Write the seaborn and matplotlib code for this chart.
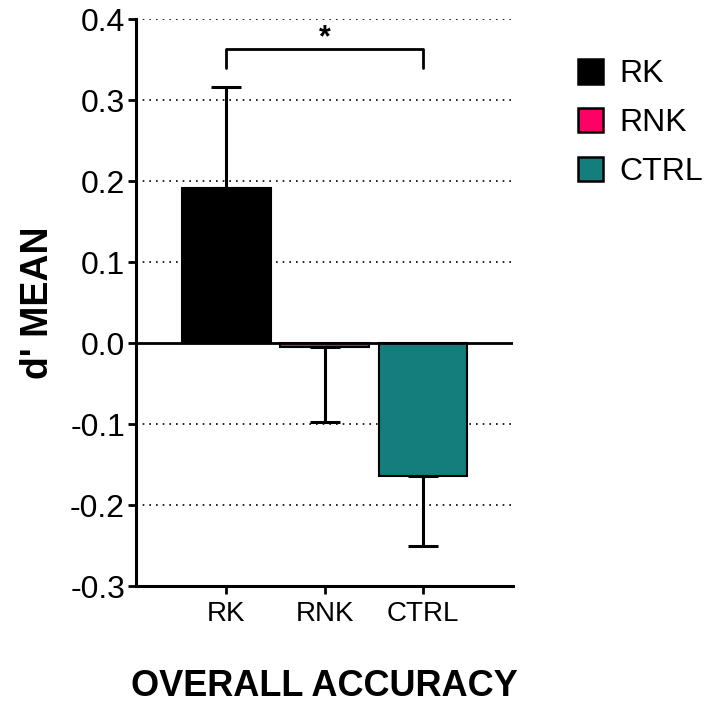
import numpy as np
import pandas as pd
import matplotlib
matplotlib.use("Agg")
import matplotlib.pyplot as plt
import seaborn as sns
from matplotlib.patches import Patch

groups = ["RK", "RNK", "CTRL"]
means = [0.191, -0.005, -0.164]
sems = [0.125, 0.092, 0.086]
colors = ["#000000", "#FF0066", "#137E7B"]
yticks = [-0.3, -0.2, -0.1, 0.0, 0.1, 0.2, 0.3, 0.4]

sns.set_style("white")
plt.rcParams['font.family'] = ['Liberation Sans', 'DejaVu Sans']
plt.rcParams.update({"text.color": "black", "axes.labelcolor": "black",
                     "xtick.color": "black", "ytick.color": "black"})

df = pd.DataFrame({"group": groups, "d": means})

fig = plt.figure(figsize=(7.09, 7.04), dpi=100)
ax = fig.add_axes([0.192, 0.1676, 0.5316, 0.8054])

sns.barplot(data=df, x="group", y="d", hue="group", palette=colors,
            order=groups, hue_order=groups, width=0.9, dodge=False,
            saturation=1, edgecolor="black", linewidth=1.5, legend=False,
            ax=ax, zorder=3)

# one-sided error bars (away from zero)
for i, (m, s) in enumerate(zip(means, sems)):
    lower = [0] if m >= 0 else [s]
    upper = [s] if m >= 0 else [0]
    ax.errorbar(i, m, yerr=[lower, upper], color="black", lw=2.2,
                capsize=11, capthick=2.2, zorder=4)

ax.set_xlim(-0.92, 2.92)
ax.set_ylim(-0.3, 0.4)
ax.set_yticks(yticks)
ax.set_yticklabels([f"{t:.1f}" for t in yticks], fontsize=23)
ax.tick_params(axis="x", labelsize=20, length=6, width=2, direction="out", pad=5)
ax.tick_params(axis="y", length=6, width=2, direction="out", pad=2)
ax.tick_params(bottom=True, left=True)

# grid: dotted lines except solid zero line
for t in yticks:
    if t == -0.3:
        continue
    if t == 0.0:
        ax.axhline(0, color="black", lw=2, zorder=5)
    else:
        ax.axhline(t, color="black", lw=1.2, ls=(0, (1, 3)), zorder=1)

for side in ["top", "right"]:
    ax.spines[side].set_visible(False)
for side in ["left", "bottom"]:
    ax.spines[side].set_linewidth(2.2)
    ax.spines[side].set_color("black")

ax.set_xlabel("OVERALL ACCURACY", fontsize=26, fontweight="bold", labelpad=30)
ax.set_ylabel("d' MEAN", fontsize=27, fontweight="bold", labelpad=10)

# significance bracket RK vs CTRL
ax.plot([0, 0, 2, 2], [0.339, 0.3625, 0.3625, 0.339], color="black", lw=2, clip_on=False)
ax.text(1, 0.358, "*", ha="center", va="bottom", fontsize=22, fontweight="bold")

handles = [Patch(facecolor=c, edgecolor="black", linewidth=1.8, label=g)
           for g, c in zip(groups, colors)]
fig.legend(handles=handles, loc="upper left", bbox_to_anchor=(0.815, 0.916),
           frameon=False, fontsize=23, handlelength=0.8, handleheight=0.8,
           labelspacing=0.58, handletextpad=0.5, borderpad=0, borderaxespad=0)

fig.savefig("out.png", dpi=100)
